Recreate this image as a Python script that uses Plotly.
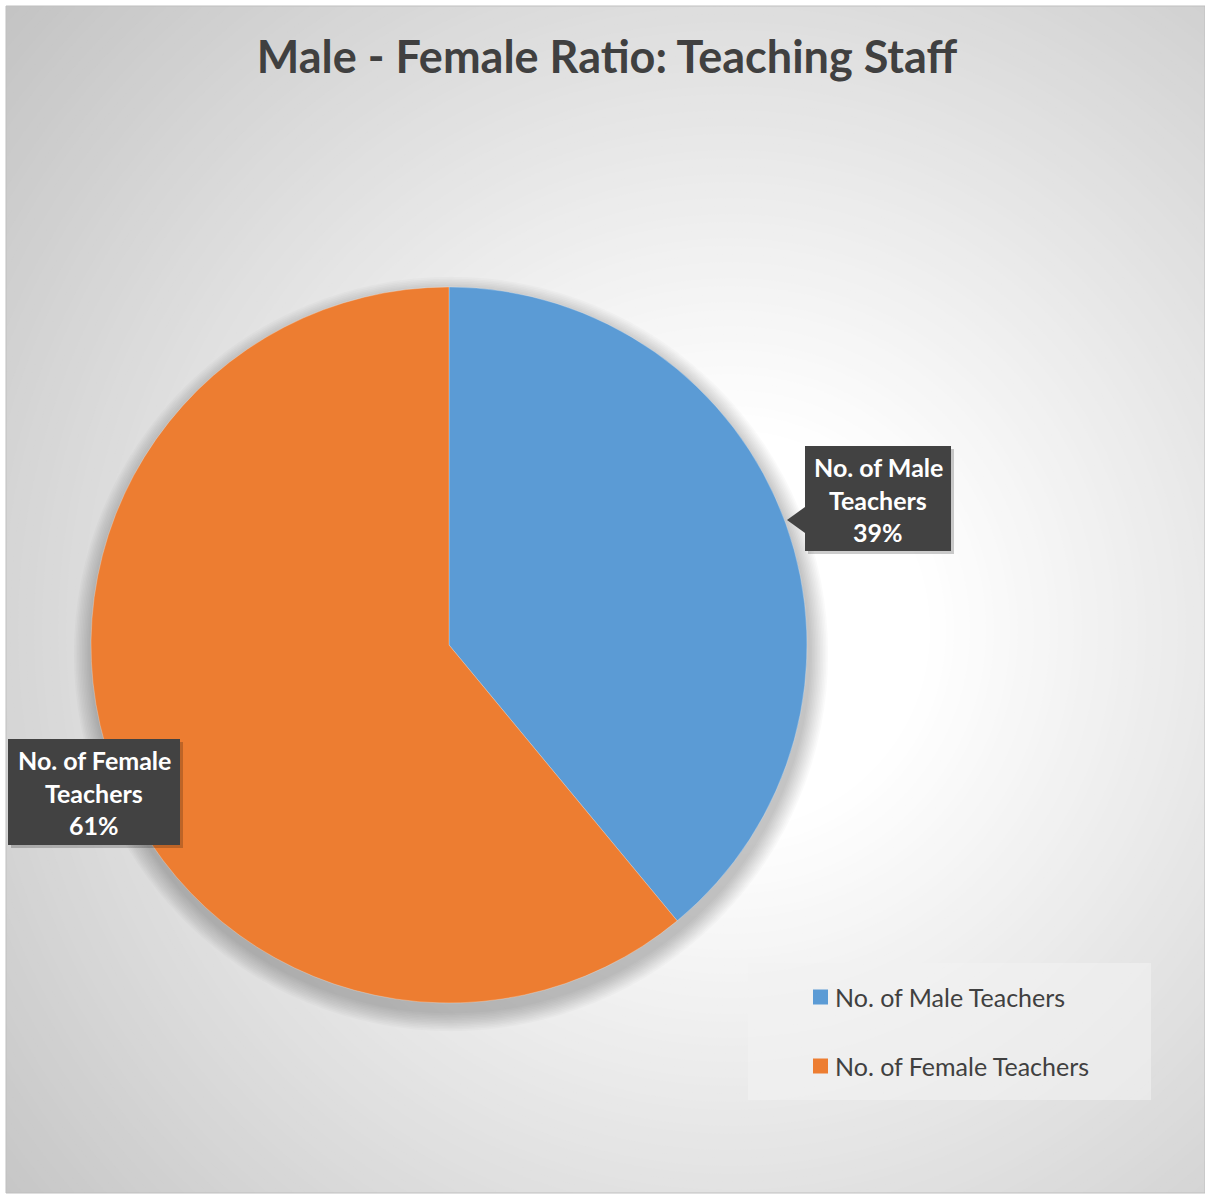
import plotly.graph_objects as go

# ---- data ----
categories = ["No. of Male Teachers", "No. of Female Teachers"]
values = [39, 61]
colors = ["#5B9BD5", "#ED7D31"]
title_text = "Male - Female Ratio: Teaching Staff"

W, H = 1205, 1195


def fx(px):
    return px / W


def fy(py):
    return 1 - py / H


shapes = []

# radial gradient background (concentric circles)
gcx, gcy = 730, 630
r = 1000
while r >= 150:
    c = 255 - 55 * (r - 200) / 700
    c = int(max(196, min(255, round(c))))
    shapes.append(dict(type="circle", xref="paper", yref="paper",
                       x0=fx(gcx - r), x1=fx(gcx + r), y0=fy(gcy + r), y1=fy(gcy - r),
                       fillcolor=f"rgb({c},{c},{c})", line=dict(width=0), layer="below"))
    r -= 8

# white outer strips + frame
for (a, b, c2, d) in [(0, 0, 6, H), (0, 0, W, 6), (0, 1193, W, H)]:
    shapes.append(dict(type="rect", xref="paper", yref="paper", x0=fx(a), x1=fx(c2),
                       y0=fy(d), y1=fy(b), fillcolor="white", line=dict(width=0), layer="below"))
shapes.append(dict(type="rect", xref="paper", yref="paper", x0=fx(6), x1=fx(W),
                   y0=fy(1193), y1=fy(6), line=dict(color="#bfbfbf", width=1),
                   fillcolor="rgba(0,0,0,0)", layer="below"))

# soft pie shadow
pcx, pcy, pr = 449, 645, 358
for k in range(12, 0, -1):
    rr = pr + k * 1.6
    shapes.append(dict(type="circle", xref="paper", yref="paper",
                       x0=fx(pcx + 2 - rr), x1=fx(pcx + 2 + rr),
                       y0=fy(pcy + 9 + rr), y1=fy(pcy + 9 - rr),
                       fillcolor="rgba(0,0,0,0.018)", line=dict(width=0), layer="below"))

# legend box
shapes.append(dict(type="rect", xref="paper", yref="paper", x0=fx(748), x1=fx(1151),
                   y0=fy(1100), y1=fy(963), fillcolor="rgba(242,242,242,0.6)",
                   line=dict(width=0), layer="below"))

fig = go.Figure(go.Pie(
    labels=categories, values=values, sort=False, direction="clockwise", rotation=0,
    marker=dict(colors=colors, line=dict(color="rgba(255,255,255,0.5)", width=0.5)),
    textinfo="none", hoverinfo="label+percent", showlegend=False,
    domain=dict(x=[fx(pcx - pr), fx(pcx + pr)], y=[fy(pcy + pr), fy(pcy - pr)]),
))

annotations = []
total = sum(values)

# data label callouts
label_boxes = [
    dict(x0=805, x1=951, y0=446, y1=551, pointer=[(805, 507), (787, 520), (805, 533)]),
    dict(x0=8, x1=180, y0=739, y1=845, pointer=None),
]
for i, (cat, val) in enumerate(zip(categories, values)):
    b = label_boxes[i]
    # shadow
    shapes.append(dict(type="rect", xref="paper", yref="paper", x0=fx(b["x0"] + 3), x1=fx(b["x1"] + 3),
                       y0=fy(b["y1"] + 3), y1=fy(b["y0"] + 3), fillcolor="rgba(0,0,0,0.2)",
                       line=dict(width=0), layer="above"))
    shapes.append(dict(type="rect", xref="paper", yref="paper", x0=fx(b["x0"]), x1=fx(b["x1"]),
                       y0=fy(b["y1"]), y1=fy(b["y0"]), fillcolor="#424242",
                       line=dict(width=0), layer="above"))
    if b["pointer"]:
        p = b["pointer"]
        path = "M {} {} L {} {} L {} {} Z".format(fx(p[0][0]), fy(p[0][1]), fx(p[1][0]), fy(p[1][1]),
                                                 fx(p[2][0]), fy(p[2][1]))
        shapes.append(dict(type="path", xref="paper", yref="paper", path=path, fillcolor="#424242",
                           line=dict(width=0), layer="above"))
    first, second = cat.rsplit(" ", 1)
    lines = [first, second, f"{round(100 * val / total)}%"]
    cx = (b["x0"] + b["x1"]) / 2
    for j, t in enumerate(lines):
        cy = b["y0"] + 21 + j * 32.5
        annotations.append(dict(text=f"<b>{t}</b>", x=fx(cx), y=fy(cy), xref="paper", yref="paper",
                                xanchor="center", yanchor="middle", showarrow=False,
                                font=dict(family="Lato", size=25, color="white")))

# legend entries
for i, (cat, col) in enumerate(zip(categories, colors)):
    ly = 997 + i * 69
    shapes.append(dict(type="rect", xref="paper", yref="paper", x0=fx(813), x1=fx(828),
                       y0=fy(ly + 7.5), y1=fy(ly - 7.5), fillcolor=col, line=dict(width=0),
                       layer="above"))
    annotations.append(dict(text=cat, x=fx(833), y=fy(ly), xref="paper", yref="paper",
                            xanchor="left", yanchor="middle", showarrow=False,
                            font=dict(family="Lato", size=25, color="#404040")))

fig.update_layout(
    width=W, height=H,
    margin=dict(l=0, r=0, t=0, b=0),
    paper_bgcolor="rgb(196,196,196)",
    title=dict(text=f"<b>{title_text}</b>", x=fx(607), y=fy(57), xref="paper", yref="paper",
               xanchor="center", yanchor="middle",
               font=dict(family="Lato", size=45, color="#404040")),
    shapes=shapes,
    annotations=annotations,
)

fig.write_html("out.html", config={"displayModeBar": False},
               post_script="document.body.style.margin='0';document.body.style.overflow='hidden';")
